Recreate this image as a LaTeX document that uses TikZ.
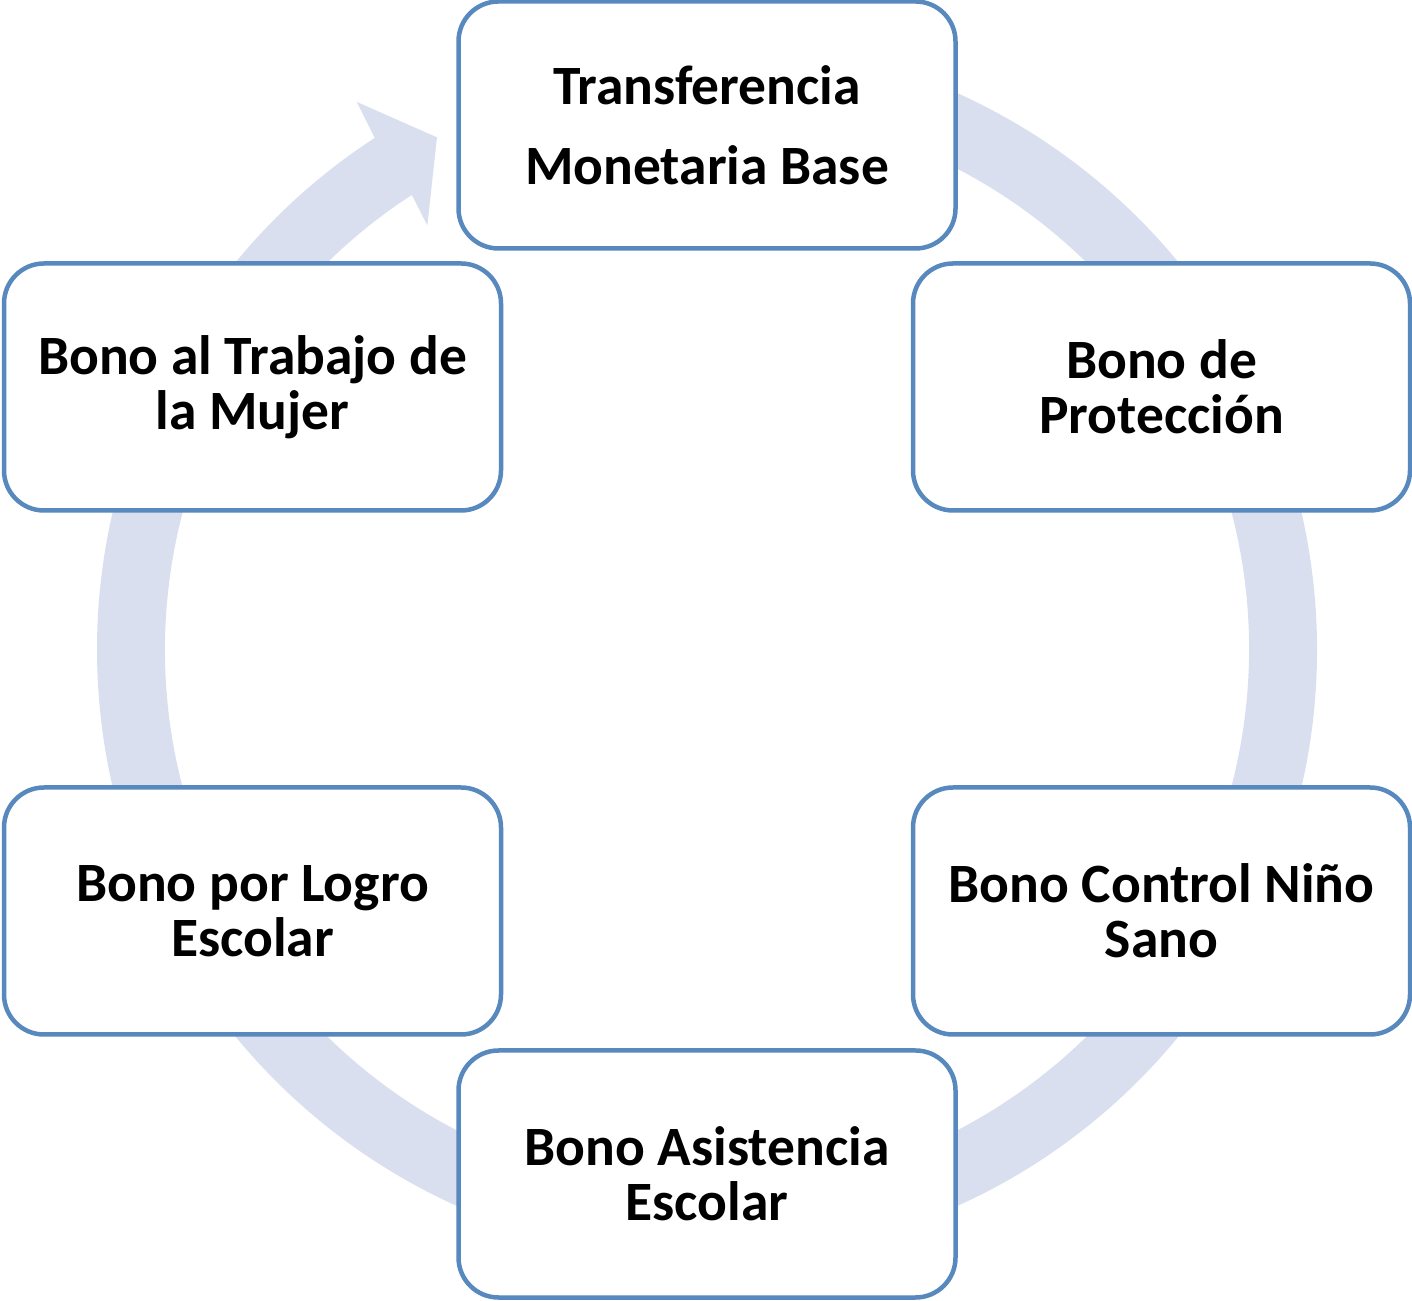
\documentclass[tikz,border=0pt]{standalone}
\usepackage{fontspec}
\setmainfont{Carlito}
\definecolor{ringc}{RGB}{217,223,238}
\definecolor{boxc}{RGB}{88,137,190}
\begin{document}
\begin{tikzpicture}[x=1pt,y=1pt,
  box/.style={draw=boxc, line width=4.5pt, fill=white, rounded corners=40pt,
    minimum width=497pt, minimum height=247pt, inner sep=0pt, align=center,
    font=\fontsize{55.5}{55}\selectfont\bfseries},
  topbox/.style={box, font=\fontsize{55.5}{80}\selectfont\bfseries}]
\useasboundingbox (0,0) rectangle (1412,1300);
\fill[ringc, shift={(707,650.5)}]
  (95:610) arc[start angle=95, end angle=-237, radius=610]
  -- (122.6:650) -- (117.8:579) -- (123.4:508) -- (-237:542)
  arc[start angle=-237, end angle=95, radius=542] -- cycle;
\node[topbox] (t) at (707,1175) {Transferencia\\Monetaria Base};
\node[box] (rt) at (1161.5,913) {Bono de\\Protección};
\node[box] (rb) at (1161.5,389) {Bono Control Niño\\Sano};
\node[box] (b) at (707,126) {Bono Asistencia\\Escolar};
\node[box] (lb) at (252.5,389) {Bono por Logro\\Escolar};
\node[box] (lt) at (252.5,913) {Bono al Trabajo de\\la Mujer};
\end{tikzpicture}
\end{document}
